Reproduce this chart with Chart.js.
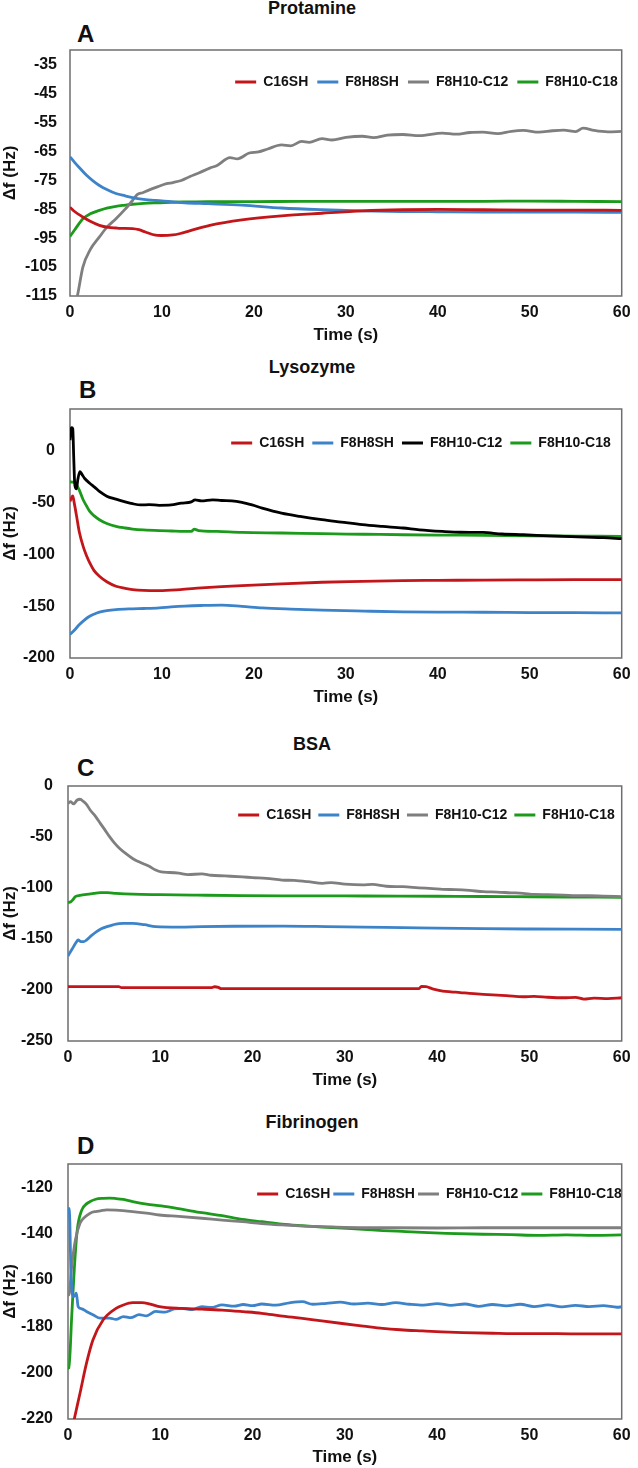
<!DOCTYPE html>
<html>
<head>
<meta charset="utf-8">
<script src="https://cdn.jsdelivr.net/npm/chart.js@4.4.1/dist/chart.umd.min.js"></script>
<style>
html,body{margin:0;padding:0;background:#fff;}
body{width:638px;height:1468px;position:relative;overflow:hidden;font-family:'Liberation Sans',Arial,Helvetica,sans-serif;color:#111;}
canvas{position:absolute;left:0;}
.ttl{position:absolute;left:0;width:624px;text-align:center;font-weight:bold;font-size:18px;line-height:20px;}
.lt{position:absolute;font-weight:bold;font-size:24px;line-height:28px;}
</style>
</head>
<body>
<div class="ttl" style="top:-2px">Protamine</div>
<div class="lt" style="top:20px;left:77px">A</div>
<div class="ttl" style="top:357px">Lysozyme</div>
<div class="lt" style="top:376px;left:79px">B</div>
<div class="ttl" style="top:734px">BSA</div>
<div class="lt" style="top:754px;left:77px">C</div>
<div class="ttl" style="top:1112px">Fibrinogen</div>
<div class="lt" style="top:1132px;left:77px">D</div>

<canvas id="cA" width="638" height="346" style="top:0px"></canvas>
<canvas id="cB" width="638" height="358" style="top:350px"></canvas>
<canvas id="cC" width="638" height="371" style="top:720px"></canvas>
<canvas id="cD" width="638" height="368" style="top:1100px"></canvas>

<script>
// ---------- shared labels ----------
const seriesNames = ['C16SH', 'F8H8SH', 'F8H10-C12', 'F8H10-C18'];
const xTicks = [0, 10, 20, 30, 40, 50, 60];

// ---------- Panel A: Protamine ----------
const yTicksA = [-115, -105, -95, -85, -75, -65, -55, -45, -35];
const tA_C16SH = [0, 0.5, 1.4, 2.2, 3.2, 4.2, 5, 5.5, 6.8, 7.5, 8.2, 9.3, 9.9, 11.2, 12, 13, 15.2, 18.7, 23, 27.4, 31.8, 36.2, 40, 45, 50, 55, 60];
const vA_C16SH = [-84.3, -85.8, -87.7, -89.2, -90.6, -91.3, -91.5, -91.6, -91.7, -92.1, -92.9, -94, -94.1, -93.9, -93.4, -92.5, -90.6, -88.7, -87.3, -86.4, -85.6, -85.2, -85.1, -85.2, -85.3, -85.3, -85.4];
const tA_F8H8SH = [0, 0.5, 1, 1.8, 2.5, 3.2, 4, 5, 6, 6.8, 8, 9.3, 11, 12.5, 15, 18.7, 23, 27.4, 31.8, 36, 40, 45, 50, 55, 60];
const vA_F8H8SH = [-66.9, -68.8, -70.6, -73.3, -75.2, -76.8, -78.2, -79.6, -80.4, -81, -81.6, -82, -82.4, -82.8, -83.1, -83.6, -84.6, -85.2, -85.6, -85.8, -85.9, -86, -86, -86, -86.1];
const tA_F8H10C12 = [0, 0.8, 1.4, 2.2, 3.2, 4, 5, 6, 6.8, 7.3, 7.9, 8.5, 9.5, 10.5, 11.2, 12.1, 13, 14, 15.2, 16, 17.4, 18.2, 19.5, 20.5, 21.5, 23, 24, 25.2, 26, 27.4, 28.5, 30, 31.8, 33, 34.5, 36.2, 38, 40.5, 42, 43.5, 44.9, 46.5, 48, 49.3, 51, 52.5, 53.7, 55, 55.8, 57, 58.5, 60];
const vA_F8H10C12 = [-124, -115, -105, -99, -94.6, -91.3, -88.3, -85, -82, -80, -79.3, -78.5, -77.3, -76.2, -75.8, -75.1, -73.8, -72.5, -70.8, -69.9, -67.2, -67.6, -65.6, -65.2, -64.2, -62.8, -63.1, -61.6, -61.9, -60.6, -61.1, -60.2, -59.8, -60.3, -59.4, -59.2, -59.6, -58.7, -59.1, -58.5, -58.4, -58.9, -58.1, -57.8, -58.4, -57.9, -57.7, -58.2, -57, -57.8, -58.3, -58.1];
const tA_F8H10C18 = [0, 0.5, 1.4, 2.2, 3.2, 4, 5, 6, 6.8, 8, 9.3, 11, 13, 15, 20, 25, 30, 35, 40, 45, 50, 55, 60];
const vA_F8H10C18 = [-94.4, -92.2, -88.3, -86.6, -85.4, -84.6, -84, -83.6, -83.3, -83, -82.8, -82.6, -82.5, -82.4, -82.4, -82.3, -82.3, -82.3, -82.3, -82.3, -82.2, -82.3, -82.4];

// ---------- Panel B: Lysozyme ----------
const yTicksB = [-200, -150, -100, -50, 0];
const tB_C16SH = [0, 0.15, 0.3, 0.45, 0.72, 1, 1.43, 1.8, 2.15, 2.6, 3.2, 4, 5, 6, 6.8, 8, 9.7, 12, 14.3, 16.5, 18.7, 23, 27.4, 31.8, 36.2, 40, 45, 50, 55, 60];
const vB_C16SH = [-49, -46, -43.7, -50, -63.5, -78, -92.4, -101.5, -108.4, -115.5, -121.2, -126.5, -130.8, -132.8, -134, -134.8, -135, -134, -132.4, -131.2, -130.2, -128.5, -127, -126.2, -125.4, -125.2, -124.9, -124.7, -124.5, -124.4];
const tB_F8H8SH = [0, 0.5, 1, 1.43, 2, 2.6, 3.2, 4, 5, 6.8, 8, 9.7, 11, 12.5, 14.3, 16.5, 18.7, 20.9, 24, 27.4, 32, 36.2, 40, 45, 50, 55, 60];
const vB_F8H8SH = [-177.3, -173, -168, -164.5, -160.5, -157.8, -155.8, -154.3, -153.3, -152.6, -152.3, -151.7, -150.8, -150, -149.4, -149, -150.2, -151.7, -152.9, -153.9, -154.8, -155.5, -155.8, -155.9, -156.2, -156.3, -156.5];
const tB_F8H10C12 = [0, 0.1, 0.2, 0.3, 0.4, 0.5, 0.6, 0.7, 0.85, 1.07, 1.3, 1.6, 2.15, 2.7, 3.2, 4, 5, 6, 6.8, 7.7, 8.6, 9.7, 11, 12.1, 13.2, 13.6, 14.3, 15.5, 16.5, 17.6, 18.7, 19.8, 20.9, 23, 25, 27.4, 29.5, 31.8, 34, 36.2, 38, 40.5, 42.5, 44.9, 47, 49.3, 51.5, 53.7, 56, 58, 60];
const vB_F8H10C12 = [10, 20, 22, 21, -5, -30, -36, -37, -28, -20.3, -23, -27, -31.5, -35.5, -39.5, -44, -46.9, -49.5, -51.3, -52.5, -52.2, -52.8, -52.5, -50.7, -49.5, -47.5, -48.5, -47.5, -48.2, -48.5, -50, -52.5, -55.5, -60.3, -63.5, -66.7, -69, -71.5, -73.2, -74.7, -76.5, -78, -78.8, -79, -80.5, -81.2, -82, -82.8, -83.5, -84, -85];
const tB_F8H10C18 = [0, 0.3, 0.5, 0.7, 1, 1.43, 1.8, 2.15, 2.6, 3.2, 4, 5, 6, 6.8, 8, 9.7, 11, 12.5, 13.2, 13.5, 14, 16, 18.7, 23, 27.4, 32, 36.2, 40, 45, 50, 55, 60];
const vB_F8H10C18 = [-30, -30.5, -31, -33, -38, -47.5, -53.5, -58.7, -62.8, -66.7, -70.3, -73.1, -74.7, -75.7, -76.6, -77.3, -77.6, -77.9, -77.9, -75.8, -77.2, -78, -79, -79.5, -80.2, -80.7, -81.2, -81.5, -81.8, -82.2, -82.5, -82.8];

// ---------- Panel C: BSA ----------
const yTicksC = [-250, -200, -150, -100, -50, 0];
const tC_C16SH = [0, 5.5, 5.8, 15.5, 15.9, 16.3, 16.6, 38, 38.3, 38.8, 39.5, 40.6, 41.5, 42.5, 43.5, 45, 46.5, 47.5, 49.3, 50.5, 52, 53.7, 55, 55.9, 57, 58.5, 60];
const vC_C16SH = [-196.7, -196.7, -197.7, -197.7, -196.8, -197.5, -198.7, -198.7, -196.5, -196.7, -198.8, -201, -201.8, -202.5, -203.4, -204.3, -205.1, -205.5, -206.6, -206.2, -207.1, -207.6, -207.2, -208.9, -207.9, -208.4, -207.6];
const tC_F8H8SH = [0, 0.3, 0.6, 0.9, 1.1, 1.4, 1.7, 2, 2.5, 3.1, 3.6, 4.2, 5.2, 6, 7, 8.3, 9.5, 12, 14.5, 18, 23.2, 28, 32, 36.3, 40, 45, 50, 55, 60];
const vC_F8H8SH = [-166.7, -162, -157.5, -153, -151, -152.5, -152.6, -151, -147, -142.8, -140, -137.9, -135.3, -134.7, -134.6, -136, -137.9, -138.3, -137.9, -137.5, -137.3, -137.8, -138.4, -138.9, -139.4, -139.9, -140.2, -140.4, -140.5];
const tC_F8H10C12 = [0, 0.3, 0.6, 1, 1.3, 1.7, 2, 2.4, 3, 3.5, 4, 4.5, 5, 5.6, 6.3, 7, 7.5, 8.1, 8.8, 9.5, 10.1, 11, 12, 13, 14.5, 15.5, 17, 18.9, 20, 21.5, 23.2, 24.5, 26, 27.6, 28.5, 30, 31.9, 33, 34.5, 36.3, 38, 39.5, 40.6, 42, 43.5, 45, 46.5, 48, 49.3, 50.5, 52, 53.7, 55, 56.5, 58, 60];
const vC_F8H10C12 = [-17, -15.4, -17.6, -13.7, -13, -15.4, -18, -23.5, -30, -36.6, -43, -49.7, -55.5, -61.3, -66.5, -71.1, -73.5, -76, -78.7, -82.4, -84.3, -84.8, -85.5, -86.8, -86.2, -87.5, -88.2, -89.1, -89.8, -90.5, -92.2, -92.6, -93.8, -95.4, -94.7, -96.2, -97, -96.5, -98.3, -98.7, -99.8, -100.6, -101.3, -101.6, -102.4, -103.6, -104, -104.7, -105.2, -106.3, -106.5, -106.9, -107.4, -107.6, -108, -108.5];
const tC_F8H10C18 = [0, 0.3, 0.5, 0.8, 1.3, 2, 2.8, 3.5, 4.3, 5.2, 7, 9.9, 14, 18.9, 25, 30, 36, 42, 48, 54, 60];
const vC_F8H10C18 = [-114.4, -113.5, -111.8, -108.5, -107.3, -106.2, -105.3, -104.6, -104.6, -105.2, -106, -106.5, -107, -107.5, -107.7, -107.8, -107.9, -108.2, -108.5, -108.8, -109.2];

// ---------- Panel D: Fibrinogen ----------
const yTicksD = [-220, -200, -180, -160, -140, -120];
const tD_C16SH = [0, 0.68, 1.3, 2, 2.7, 3.8, 5.2, 6, 7, 8, 8.8, 9.9, 12.3, 14.5, 16.7, 19, 21, 23, 25.4, 27.5, 29.7, 32, 34.1, 36, 38.4, 40.5, 42.8, 46, 49.3, 53, 56, 60];
const vD_C16SH = [-233, -220, -208.9, -196, -185.9, -177.3, -172.3, -170.8, -169.8, -169.8, -170.3, -171.5, -172.3, -172.6, -173, -173.7, -174.4, -175.5, -176.6, -177.7, -178.8, -179.9, -180.9, -181.5, -182, -182.4, -182.7, -183, -183.2, -183.2, -183.3, -183.3];
const tD_F8H8SH = [0, 0.1, 0.2, 0.3, 0.4, 0.5, 0.7, 0.9, 1.1, 1.5, 2, 2.7, 3.5, 4.5, 5.2, 6, 6.8, 7.7, 8.5, 9.5, 10.5, 11.5, 12.3, 13.5, 14.5, 15.5, 16.7, 18, 19, 20, 21, 22.5, 24, 25.4, 26.5, 28, 29.5, 31, 32.5, 34, 35.5, 37, 38.5, 40, 41.5, 43, 44.5, 46, 47.5, 49, 50.5, 52, 53.5, 55, 56.5, 58, 59.5, 60];
const vD_F8H8SH = [-129.5, -129.1, -135, -155, -163, -167.2, -167, -165.7, -171.5, -172.5, -173.6, -175, -176.5, -176.5, -177, -175.8, -176.3, -175, -175.5, -173.6, -173.9, -172.5, -172.3, -172.8, -171.5, -171.9, -170.8, -171.3, -170.6, -171.1, -170.4, -170.9, -169.9, -169.4, -170.5, -170.1, -169.6, -170.4, -170, -170.6, -169.8, -170.5, -170.9, -170.2, -171, -170.4, -171.4, -170.6, -171.2, -170.5, -171.5, -170.8, -171.6, -171, -171.5, -171.1, -171.8, -171.6];
const tD_F8H10C12 = [0, 0.1, 0.4, 0.8, 1.3, 1.8, 2.4, 3, 3.5, 4.2, 5.2, 7, 8.5, 9.9, 12, 14.5, 16.7, 18.9, 21, 23.2, 25.4, 27.6, 30, 35, 40, 45, 50, 55, 60];
const vD_F8H10C12 = [-165.8, -166.5, -154.2, -142.8, -135.6, -133, -131.2, -130.5, -130.2, -129.8, -129.9, -130.5, -131.2, -132, -132.6, -133.4, -134.2, -134.9, -135.7, -136.3, -136.8, -137, -137.3, -137.5, -137.6, -137.5, -137.5, -137.5, -137.5];
const tD_F8H10C18 = [0, 0.1, 0.4, 0.7, 1, 1.5, 2, 2.4, 3, 3.8, 4.5, 5.2, 6, 7, 8.5, 10.1, 12.3, 14.5, 16.7, 18.9, 21, 23.2, 25.4, 27.5, 29.7, 32, 34.1, 36.2, 38.4, 41, 45, 48, 51, 54, 57, 60];
const vD_F8H10C18 = [-198.1, -198, -175.9, -154.2, -138.5, -129.8, -127.2, -126.2, -125.2, -124.8, -124.7, -124.9, -125.3, -126.2, -127.3, -128.1, -129.5, -131, -132.3, -133.9, -134.9, -135.9, -136.6, -137.2, -137.7, -138.2, -138.7, -139.1, -139.5, -139.9, -140.3, -140.5, -140.8, -140.6, -140.8, -140.6];

// ---------- colours ----------
const RED = '#C3161B', BLUE = '#3D83C9', GRAY = '#7F7F7F', GREEN = '#1B9A1B', BLACK = '#000000';

const FONT = "'Liberation Sans', Arial, Helvetica, sans-serif";
Chart.defaults.font.family = FONT;
Chart.defaults.font.weight = 'bold';
Chart.defaults.color = '#111';

// legend drawn inside the plot frame (top-right)
const insideLegend = {
  id: 'insideLegend',
  beforeLayout(chart) {
    const lg = chart.legend;
    if (lg && !lg.__patched) {
      const orig = lg.fit;
      lg.fit = function () { orig.call(this); this.__h = this.height; this.height = 0; };
      lg.__patched = true;
    }
  },
  afterLayout(chart, args, o) {
    const lg = chart.legend; if (!lg) return;
    const ca = chart.chartArea;
    const pad = lg.options.labels.padding;
    lg.height = lg.__h || 30;
    lg.top = ca.top + o.dy - pad - 7;
    lg.bottom = lg.top + lg.height;
    lg.left = ca.left;
    lg.right = ca.right + o.dx;
    lg.width = lg.right - lg.left;
  }
};
const frame = {
  id: 'frame',
  beforeDatasetsDraw(chart) {
    const {ctx, chartArea: a} = chart;
    ctx.save();
    ctx.strokeStyle = '#6e6e6e';
    ctx.lineWidth = 1.5;
    ctx.strokeRect(a.left, a.top, a.right - a.left, a.bottom - a.top);
    ctx.restore();
  }
};

function series(label, color, ts, vs) {
  return {
    label, data: ts.map((t, i) => ({x: t, y: vs[i]})),
    borderColor: color, backgroundColor: color, borderWidth: 2.8,
    pointRadius: 0, cubicInterpolationMode: 'monotone', fill: false
  };
}

function makeChart(id, p) {
  new Chart(document.getElementById(id), {
    type: 'line',
    data: {datasets: p.datasets},
    options: {
      responsive: false, animation: false, devicePixelRatio: 1, events: [],
      layout: {padding: {top: p.padTop, right: p.padRight, left: 0, bottom: 0}},
      scales: {
        x: {
          type: 'linear', min: 0, max: 60,
          afterBuildTicks: s => { s.ticks = xTicks.map(v => ({value: v})); },
          ticks: {padding: 7.4, maxRotation: 0, autoSkip: false, font: {size: 16, weight: 'bold'}},
          grid: {display: false, drawTicks: false}, border: {display: false},
          title: {display: true, text: 'Time (s)', font: {size: 17, weight: 'bold'}, padding: {top: 0, bottom: p.xTitlePad}},
          afterFit: s => { s.height = p.xH; }
        },
        y: {
          type: 'linear', min: p.yMin, max: p.yMax,
          afterBuildTicks: s => { s.ticks = p.yTicks.map(v => ({value: v})); },
          ticks: {padding: p.tickPad, autoSkip: false, font: {size: 16, weight: 'bold'}},
          grid: {display: false, drawTicks: false}, border: {display: false},
          title: {display: true, text: 'Δf (Hz)', font: {size: 17, weight: 'bold'}, padding: {top: 0, bottom: 0}},
          afterFit: s => { s.width = p.yW; }
        }
      },
      plugins: {
        legend: {
          position: 'top', align: 'end',
          labels: {
            boxWidth: 21, boxHeight: 3, padding: p.legPad, color: '#111',
            font: {size: 14, weight: 'bold'},
            generateLabels: ch => Chart.defaults.plugins.legend.labels.generateLabels(ch).map(l => Object.assign(l, {lineWidth: 0}))
          }
        },
        tooltip: {enabled: false},
        insideLegend: {dy: p.legDy, dx: p.legDx}
      }
    },
    plugins: [insideLegend, frame]
  });
}

makeChart('cA', {
  padTop: 50, padRight: 10, yW: 70, xH: 50, xTitlePad: 0.8,
  yMin: -115, yMax: -30, yTicks: yTicksA, tickPad: 13,
  legPad: 9, legDy: 32, legDx: 5,
  datasets: [
    series(seriesNames[0], RED, tA_C16SH, vA_C16SH),
    series(seriesNames[1], BLUE, tA_F8H8SH, vA_F8H8SH),
    series(seriesNames[2], GRAY, tA_F8H10C12, vA_F8H10C12),
    series(seriesNames[3], GREEN, tA_F8H10C18, vA_F8H10C18)
  ]
});
makeChart('cB', {
  padTop: 59, padRight: 10, yW: 70, xH: 50, xTitlePad: 0.8,
  yMin: -200, yMax: 40, yTicks: yTicksB, tickPad: 15,
  legPad: 8, legDy: 34, legDx: -3,
  datasets: [
    series(seriesNames[0], RED, tB_C16SH, vB_C16SH),
    series(seriesNames[1], BLUE, tB_F8H8SH, vB_F8H8SH),
    series(seriesNames[2], BLACK, tB_F8H10C12, vB_F8H10C12),
    series(seriesNames[3], GREEN, tB_F8H10C18, vB_F8H10C18)
  ]
});
makeChart('cC', {
  padTop: 66, padRight: 9, yW: 68, xH: 50, xTitlePad: 0.8,
  yMin: -250, yMax: 0, yTicks: yTicksC, tickPad: 15,
  legPad: 7, legDy: 29, legDx: 0,
  datasets: [
    series(seriesNames[0], RED, tC_C16SH, vC_C16SH),
    series(seriesNames[1], BLUE, tC_F8H8SH, vC_F8H8SH),
    series(seriesNames[2], GRAY, tC_F8H10C12, vC_F8H10C12),
    series(seriesNames[3], GREEN, tC_F8H10C18, vC_F8H10C18)
  ]
});
makeChart('cD', {
  padTop: 64, padRight: 9, yW: 68, xH: 49, xTitlePad: 0,
  yMin: -220, yMax: -110, yTicks: yTicksD, tickPad: 15,
  legPad: 3, legDy: 30, legDx: 3,
  datasets: [
    series(seriesNames[0], RED, tD_C16SH, vD_C16SH),
    series(seriesNames[1], BLUE, tD_F8H8SH, vD_F8H8SH),
    series(seriesNames[2], GRAY, tD_F8H10C12, vD_F8H10C12),
    series(seriesNames[3], GREEN, tD_F8H10C18, vD_F8H10C18)
  ]
});
</script>
</body>
</html>
